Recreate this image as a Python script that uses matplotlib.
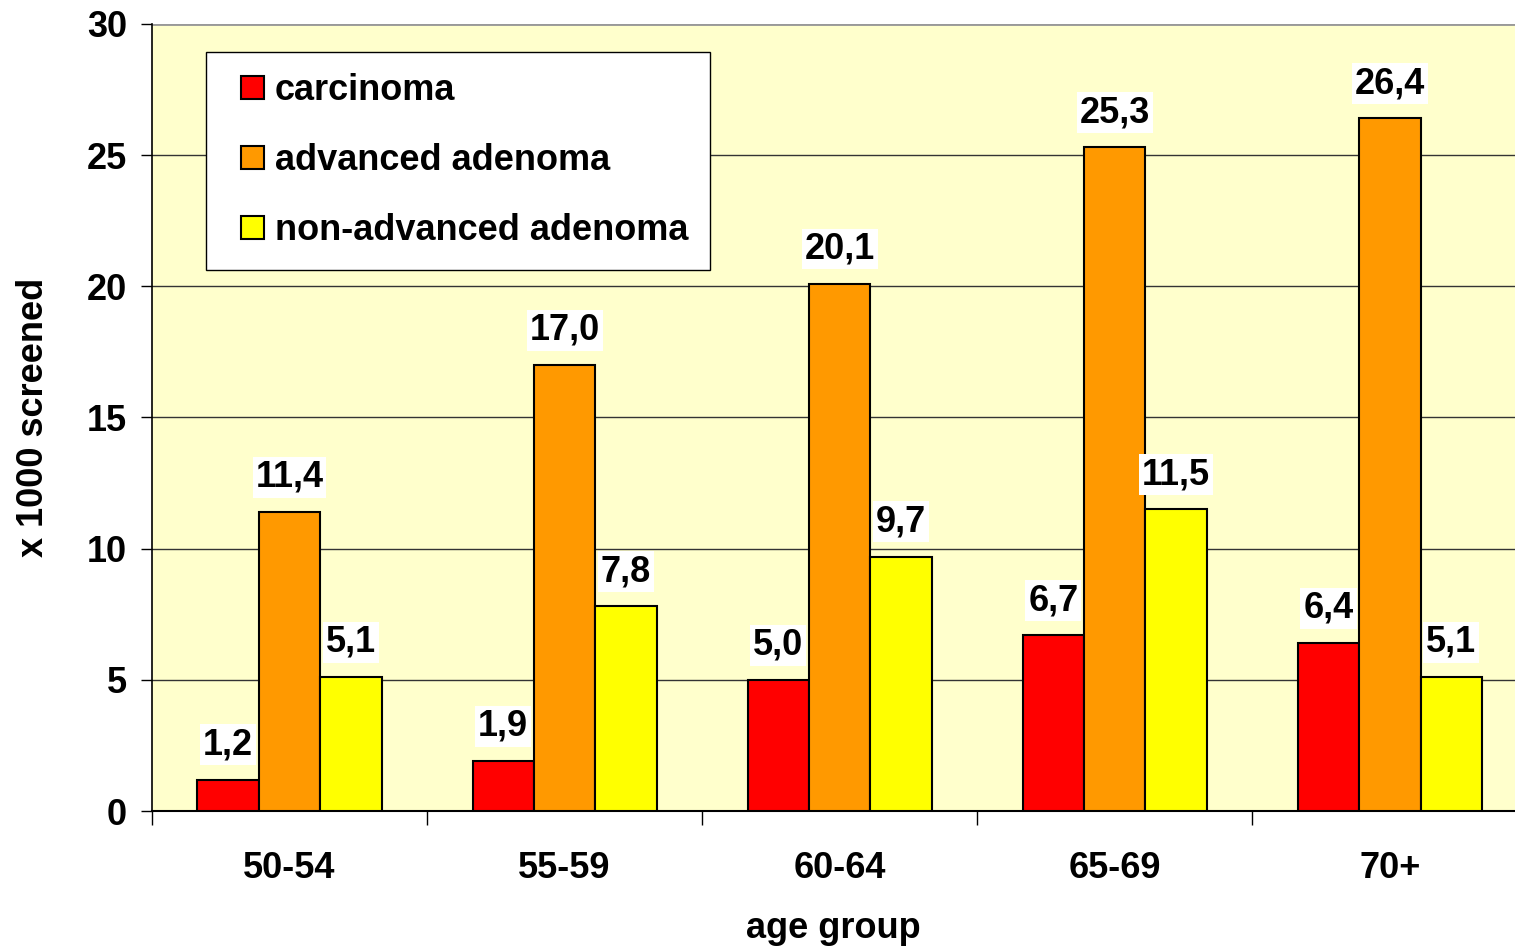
import matplotlib.pyplot as plt
from matplotlib.patches import Rectangle
from matplotlib.legend_handler import HandlerPatch
from matplotlib.container import BarContainer
import numpy as np

groups = ['50-54', '55-59', '60-64', '65-69', '70+']
carcinoma = [1.2, 1.9, 5.0, 6.7, 6.4]
adv_adenoma = [11.4, 17.0, 20.1, 25.3, 26.4]
nonadv_adenoma = [5.1, 7.8, 9.7, 11.5, 5.1]

series = [
    ('carcinoma', carcinoma, '#FF0000'),
    ('advanced adenoma', adv_adenoma, '#FF9900'),
    ('non-advanced adenoma', nonadv_adenoma, '#FFFF00'),
]

plt.rcParams['font.family'] = ['Liberation Sans', 'DejaVu Sans']
plt.rcParams['font.weight'] = 'bold'
fs = 26

fig = plt.figure(figsize=(15.15, 9.48), dpi=100)
ax = fig.add_axes([0.1003, 0.1445, 0.8997, 0.8302])
ax.set_facecolor('#FFFFCC')

x = np.arange(len(groups))
w = 0.223
for i, (name, vals, col) in enumerate(series):
    pos = x + (i - 1) * w
    ax.bar(pos, vals, width=w, color=col, edgecolor='black', linewidth=1.5,
           label=name, zorder=3)
    for p, v in zip(pos, vals):
        ax.annotate(f'{v:.1f}'.replace('.', ','), (p, v), xytext=(0, 25),
                    textcoords='offset points', ha='center', va='center',
                    fontsize=fs, fontweight='bold', zorder=4,
                    bbox=dict(facecolor='white', edgecolor='none', pad=2))

ax.set_yticks(range(0, 31, 5))
ax.yaxis.grid(True, color='#333333', linewidth=1.0, zorder=0)
ax.set_axisbelow(True)

ax.set_xticks(x)
ax.set_xticklabels(groups)
ax.tick_params(axis='x', length=0, pad=29, labelsize=fs)
ax.set_xticks(np.arange(-0.5, 4, 1), minor=True)
ax.tick_params(axis='x', which='minor', length=10, width=1, direction='out')
ax.tick_params(axis='y', length=8, width=1, direction='out', pad=10, labelsize=fs)
ax.set_ylim(0, 30)
ax.set_xlim(-0.5, 4.455)

for s in ['top', 'right']:
    ax.spines[s].set_visible(False)
ax.spines['left'].set_linewidth(1.2)
ax.spines['bottom'].set_linewidth(1.5)
ax.axhline(30, color='#999999', linewidth=2, zorder=1)

ax.set_xlabel('age group', fontsize=fs, fontweight='bold', labelpad=18)
ax.set_ylabel('x 1000 screened', fontsize=fs, fontweight='bold', labelpad=26)


# square legend marker pushed to the right end of the handle area
def square(legend, orig_handle, xdescent, ydescent, width, height, fontsize):
    return Rectangle((-xdescent + width - height, -ydescent), height, height)


def from_bars(tgt, orig):
    tgt.update_from(orig.patches[0])


leg = ax.legend(loc='upper left', bbox_to_anchor=(0.04, 0.965), fontsize=fs,
                frameon=True, fancybox=False, edgecolor='black',
                handlelength=1.0, handleheight=0.6, handletextpad=0.3,
                labelspacing=0.97, borderpad=0.6, borderaxespad=0,
                handler_map={BarContainer: HandlerPatch(patch_func=square,
                                                        update_func=from_bars)})
leg.get_frame().set_linewidth(1.0)
leg.get_frame().set_facecolor('white')
leg.get_frame().set_alpha(1.0)

fig.savefig('out.png', dpi=100)
